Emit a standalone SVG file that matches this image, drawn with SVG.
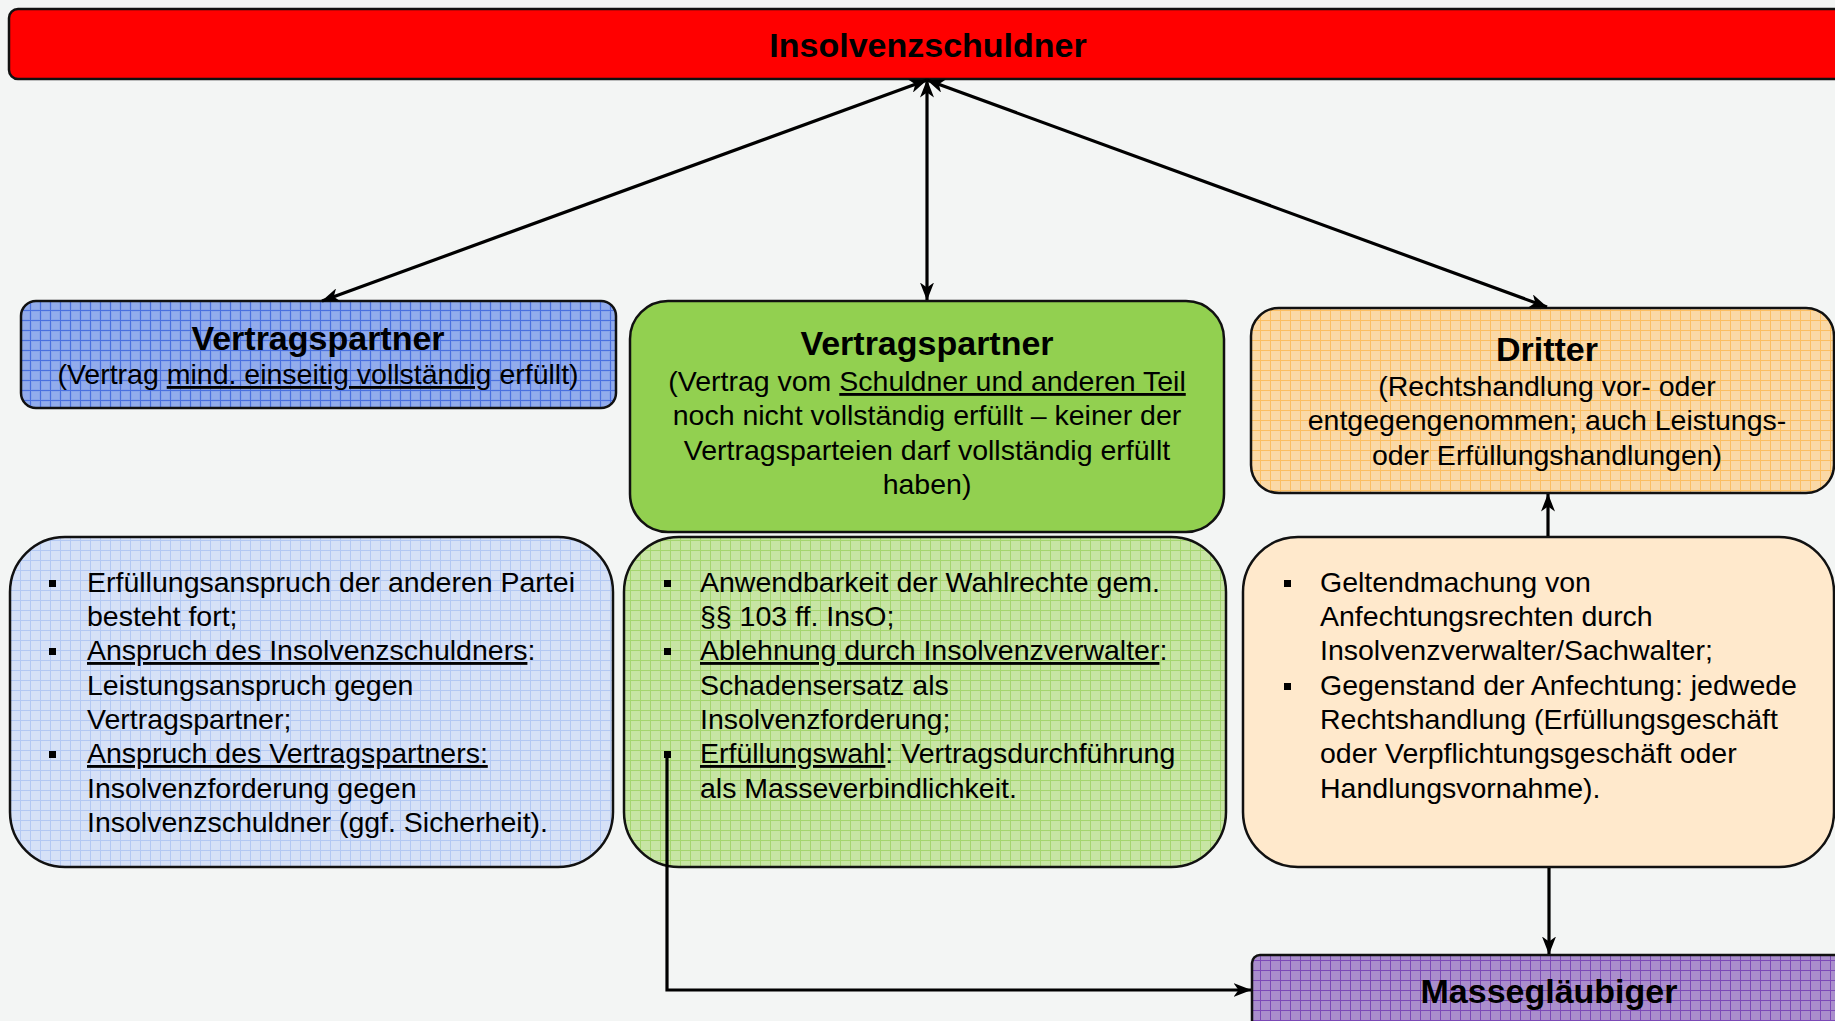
<svg xmlns="http://www.w3.org/2000/svg" width="1835" height="1021" viewBox="0 0 1835 1021">
<style>
.box{stroke:#111;stroke-width:2.5}
.t{font-family:"Liberation Sans",Arial,sans-serif;font-size:28.5px;fill:#000}
.c{text-anchor:middle}
.b{font-weight:bold;font-size:34px}
.u{text-decoration:underline}
.bul{fill:#000}
.con{fill:none;stroke:#000;stroke-width:3.2}
</style>
<defs>
<pattern id="pBlue" width="10" height="10" patternUnits="userSpaceOnUse"><rect width="10" height="10" fill="#88a4ea"/><rect x="2" y="2" width="7" height="7" fill="#92acec"/><path d="M0 0.5H10M0.5 0V10" stroke="#4a70df" stroke-width="1"/></pattern>
<pattern id="pBlueL" width="10" height="10" patternUnits="userSpaceOnUse"><rect width="10" height="10" fill="#d6e1f7"/><path d="M0 0.5H10M0.5 0V10" stroke="#b3c8f3" stroke-width="1"/></pattern>
<pattern id="pGreenL" width="10" height="10" patternUnits="userSpaceOnUse"><rect width="10" height="10" fill="#c7e5a4"/><path d="M0 0.5H10M0.5 0V10" stroke="#a5d56f" stroke-width="1"/></pattern>
<pattern id="pOrange" width="10" height="10" patternUnits="userSpaceOnUse"><rect width="10" height="10" fill="#fad9a7"/><path d="M0 0.5H10M0.5 0V10" stroke="#fbbe62" stroke-width="1"/></pattern>
<pattern id="pPurple" width="10" height="10" patternUnits="userSpaceOnUse"><rect width="10" height="10" fill="#aa8ecc"/><path d="M0 0.5H10M0.5 0V10" stroke="#7c4ab7" stroke-width="1"/></pattern>
<marker id="ah" viewBox="0 0 18 14" refX="17.5" refY="7" markerWidth="18" markerHeight="14" markerUnits="userSpaceOnUse" orient="auto-start-reverse"><path d="M0,0 L18,7 L0,14 L5,7 z" fill="#000"/></marker>
</defs>
<rect width="1835" height="1021" fill="#f3f5f4"/>

<g id="insolvenzschuldner">
<rect class="box" x="9" y="9" width="1840" height="70" rx="9" fill="#ff0000"/>
<text class="t c b" x="928" y="57">Insolvenzschuldner</text>
</g>

<g id="vertragspartner-erfuellt">
<rect class="box" x="21" y="301" width="595" height="107" rx="15" fill="url(#pBlue)"/>
<text class="t c b" x="318" y="350">Vertragspartner</text>
<text class="t c" x="318" y="384">(Vertrag <tspan class="u">mind. einseitig vollständig</tspan> erfüllt)</text>
</g>

<g id="vertragspartner-nicht-erfuellt">
<rect class="box" x="630" y="301" width="594" height="231" rx="38" fill="#92d050"/>
<text class="t c b" x="927" y="355">Vertragspartner</text>
<text class="t c" x="927" y="391">(Vertrag vom <tspan class="u">Schuldner und anderen Teil</tspan></text>
<text class="t c" x="927" y="425">noch nicht vollständig erfüllt – keiner der</text>
<text class="t c" x="927" y="460">Vertragsparteien darf vollständig erfüllt</text>
<text class="t c" x="927" y="494">haben)</text>
</g>

<g id="dritter">
<rect class="box" x="1251" y="308" width="583" height="185" rx="28" fill="url(#pOrange)"/>
<text class="t c b" x="1547" y="361">Dritter</text>
<text class="t c" x="1547" y="396">(Rechtshandlung vor- oder</text>
<text class="t c" x="1547" y="430">entgegengenommen; auch Leistungs-</text>
<text class="t c" x="1547" y="465">oder Erfüllungshandlungen)</text>
</g>

<g id="folgen-erfuellt">
<rect class="box" x="10" y="537" width="603" height="330" rx="55" fill="url(#pBlueL)"/>
<rect class="bul" x="49" y="580" width="7" height="7"/>
<rect class="bul" x="49" y="648" width="7" height="7"/>
<rect class="bul" x="49" y="751" width="7" height="7"/>
<text class="t" x="87" y="592">Erfüllungsanspruch der anderen Partei</text>
<text class="t" x="87" y="626">besteht fort;</text>
<text class="t" x="87" y="660"><tspan class="u">Anspruch des Insolvenzschuldners</tspan>:</text>
<text class="t" x="87" y="695">Leistungsanspruch gegen</text>
<text class="t" x="87" y="729">Vertragspartner;</text>
<text class="t" x="87" y="763"><tspan class="u">Anspruch des Vertragspartners:</tspan></text>
<text class="t" x="87" y="798">Insolvenzforderung gegen</text>
<text class="t" x="87" y="832">Insolvenzschuldner (ggf. Sicherheit).</text>
</g>

<g id="folgen-nicht-erfuellt">
<rect class="box" x="624" y="537" width="602" height="330" rx="55" fill="url(#pGreenL)"/>
<rect class="bul" x="664" y="580" width="7" height="7"/>
<rect class="bul" x="664" y="648" width="7" height="7"/>
<rect class="bul" x="664" y="751" width="7" height="7"/>
<text class="t" x="700" y="592">Anwendbarkeit der Wahlrechte gem.</text>
<text class="t" x="700" y="626">§§ 103 ff. InsO;</text>
<text class="t" x="700" y="660"><tspan class="u">Ablehnung durch Insolvenzverwalter</tspan>:</text>
<text class="t" x="700" y="695">Schadensersatz als</text>
<text class="t" x="700" y="729">Insolvenzforderung;</text>
<text class="t" x="700" y="763"><tspan class="u">Erfüllungswahl</tspan>: Vertragsdurchführung</text>
<text class="t" x="700" y="798">als Masseverbindlichkeit.</text>
</g>

<g id="anfechtung">
<rect class="box" x="1243" y="537" width="591" height="330" rx="55" fill="#ffe9cc"/>
<rect class="bul" x="1284" y="580" width="7" height="7"/>
<rect class="bul" x="1284" y="683" width="7" height="7"/>
<text class="t" x="1320" y="592">Geltendmachung von</text>
<text class="t" x="1320" y="626">Anfechtungsrechten durch</text>
<text class="t" x="1320" y="660">Insolvenzverwalter/Sachwalter;</text>
<text class="t" x="1320" y="695">Gegenstand der Anfechtung: jedwede</text>
<text class="t" x="1320" y="729">Rechtshandlung (Erfüllungsgeschäft</text>
<text class="t" x="1320" y="763">oder Verpflichtungsgeschäft oder</text>
<text class="t" x="1320" y="798">Handlungsvornahme).</text>
</g>

<g id="massglaeubiger">
<rect class="box" x="1252" y="955" width="600" height="80" rx="8" fill="url(#pPurple)"/>
<text class="t c b" x="1549" y="1003">Massegläubiger</text>
</g>

<g id="connectors">
<line class="con" x1="927" y1="80" x2="322" y2="301" marker-start="url(#ah)" marker-end="url(#ah)"/>
<line class="con" x1="927" y1="80" x2="927" y2="300" marker-start="url(#ah)" marker-end="url(#ah)"/>
<line class="con" x1="927" y1="80" x2="1547" y2="307" marker-start="url(#ah)" marker-end="url(#ah)"/>
<line class="con" x1="1548" y1="536" x2="1548" y2="494" marker-end="url(#ah)"/>
<line class="con" x1="1549" y1="868" x2="1549" y2="954" marker-end="url(#ah)"/>
<polyline class="con" points="667,752 667,990 1251,990" marker-end="url(#ah)"/>
</g>
</svg>
